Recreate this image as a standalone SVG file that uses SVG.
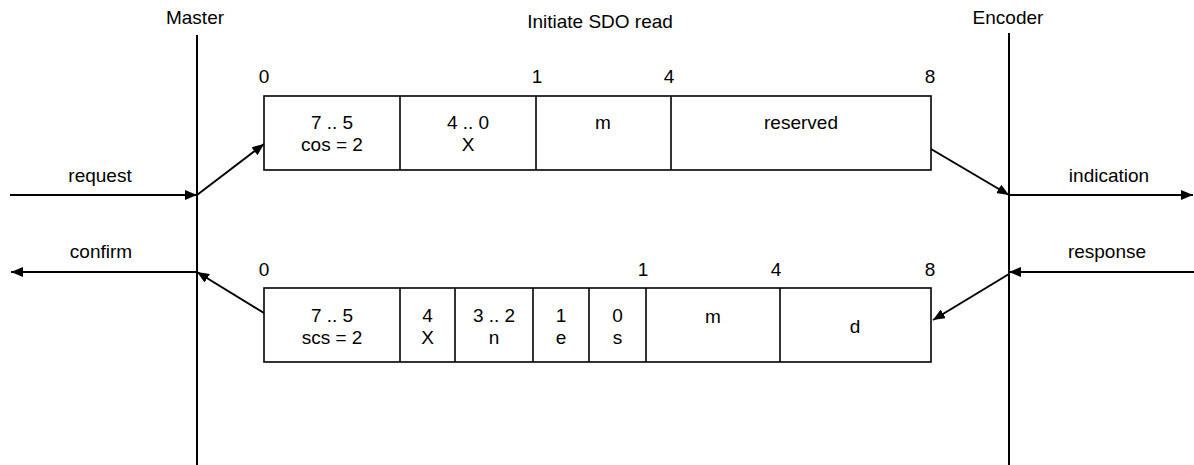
<svg xmlns="http://www.w3.org/2000/svg" width="1194" height="465" viewBox="0 0 1194 465">
<style>
text{font-family:"Liberation Sans",Arial,sans-serif;font-size:19px;fill:#000;text-anchor:middle}
.box{fill:#fff;stroke:#000;stroke-width:1.6}
.div{stroke:#000;stroke-width:1.6}
.life{stroke:#000;stroke-width:2}
.arr{stroke:#000;stroke-width:2;fill:none;marker-end:url(#ah)}
</style>
<defs>
<marker id="ah" markerUnits="userSpaceOnUse" markerWidth="12" markerHeight="10" refX="12" refY="5" orient="auto">
<path d="M0,0 L12,5 L0,10 z" fill="#000"/>
</marker>
</defs>
<rect width="1194" height="465" fill="#fff"/>
<g id="master">
<line class="life" x1="197" y1="35" x2="197" y2="465"/>
<text x="195" y="24">Master</text>
</g>
<g id="encoder">
<line class="life" x1="1009" y1="33" x2="1009" y2="465"/>
<text x="1008" y="24">Encoder</text>
</g>
<g id="title">
<text x="600" y="28">Initiate SDO read</text>
</g>
<g id="request-frame">
<text x="264" y="83">0</text>
<text x="537" y="83">1</text>
<text x="669" y="83">4</text>
<text x="930" y="83">8</text>
<rect class="box" x="264" y="96" width="667" height="74"/>
<line class="div" x1="400" y1="96" x2="400" y2="170"/>
<line class="div" x1="536" y1="96" x2="536" y2="170"/>
<line class="div" x1="671" y1="96" x2="671" y2="170"/>
<text x="332" y="129">7 .. 5</text>
<text x="332" y="151">cos = 2</text>
<text x="468" y="129">4 .. 0</text>
<text x="468" y="151">X</text>
<text x="603" y="129">m</text>
<text x="801" y="129">reserved</text>
</g>
<g id="response-frame">
<text x="264" y="276">0</text>
<text x="643" y="276">1</text>
<text x="776" y="276">4</text>
<text x="930" y="276">8</text>
<rect class="box" x="264" y="288" width="667" height="74"/>
<line class="div" x1="400" y1="288" x2="400" y2="362"/>
<line class="div" x1="455" y1="288" x2="455" y2="362"/>
<line class="div" x1="533" y1="288" x2="533" y2="362"/>
<line class="div" x1="589" y1="288" x2="589" y2="362"/>
<line class="div" x1="646" y1="288" x2="646" y2="362"/>
<line class="div" x1="780" y1="288" x2="780" y2="362"/>
<text x="332" y="322">7 .. 5</text>
<text x="332" y="344">scs = 2</text>
<text x="427.5" y="322">4</text>
<text x="427.5" y="344">X</text>
<text x="494" y="322">3 .. 2</text>
<text x="494" y="344">n</text>
<text x="561" y="322">1</text>
<text x="561" y="344">e</text>
<text x="617.5" y="322">0</text>
<text x="617.5" y="344">s</text>
<text x="713" y="323">m</text>
<text x="855" y="333">d</text>
</g>
<g id="labels">
<text x="100" y="182">request</text>
<text x="101" y="258">confirm</text>
<text x="1109" y="182">indication</text>
<text x="1107" y="258">response</text>
</g>
<g id="connectors">
<line class="arr" x1="10" y1="195" x2="197" y2="195"/>
<line class="arr" x1="197" y1="195" x2="264" y2="144"/>
<line class="arr" x1="931" y1="149" x2="1009" y2="195"/>
<line class="arr" x1="1009" y1="195" x2="1193" y2="195"/>
<line class="arr" x1="1194" y1="272" x2="1009" y2="272"/>
<line class="arr" x1="1009" y1="274" x2="933" y2="320"/>
<line class="arr" x1="264" y1="313" x2="197" y2="272"/>
<line class="arr" x1="197" y1="272" x2="11" y2="272"/>
</g>
</svg>
